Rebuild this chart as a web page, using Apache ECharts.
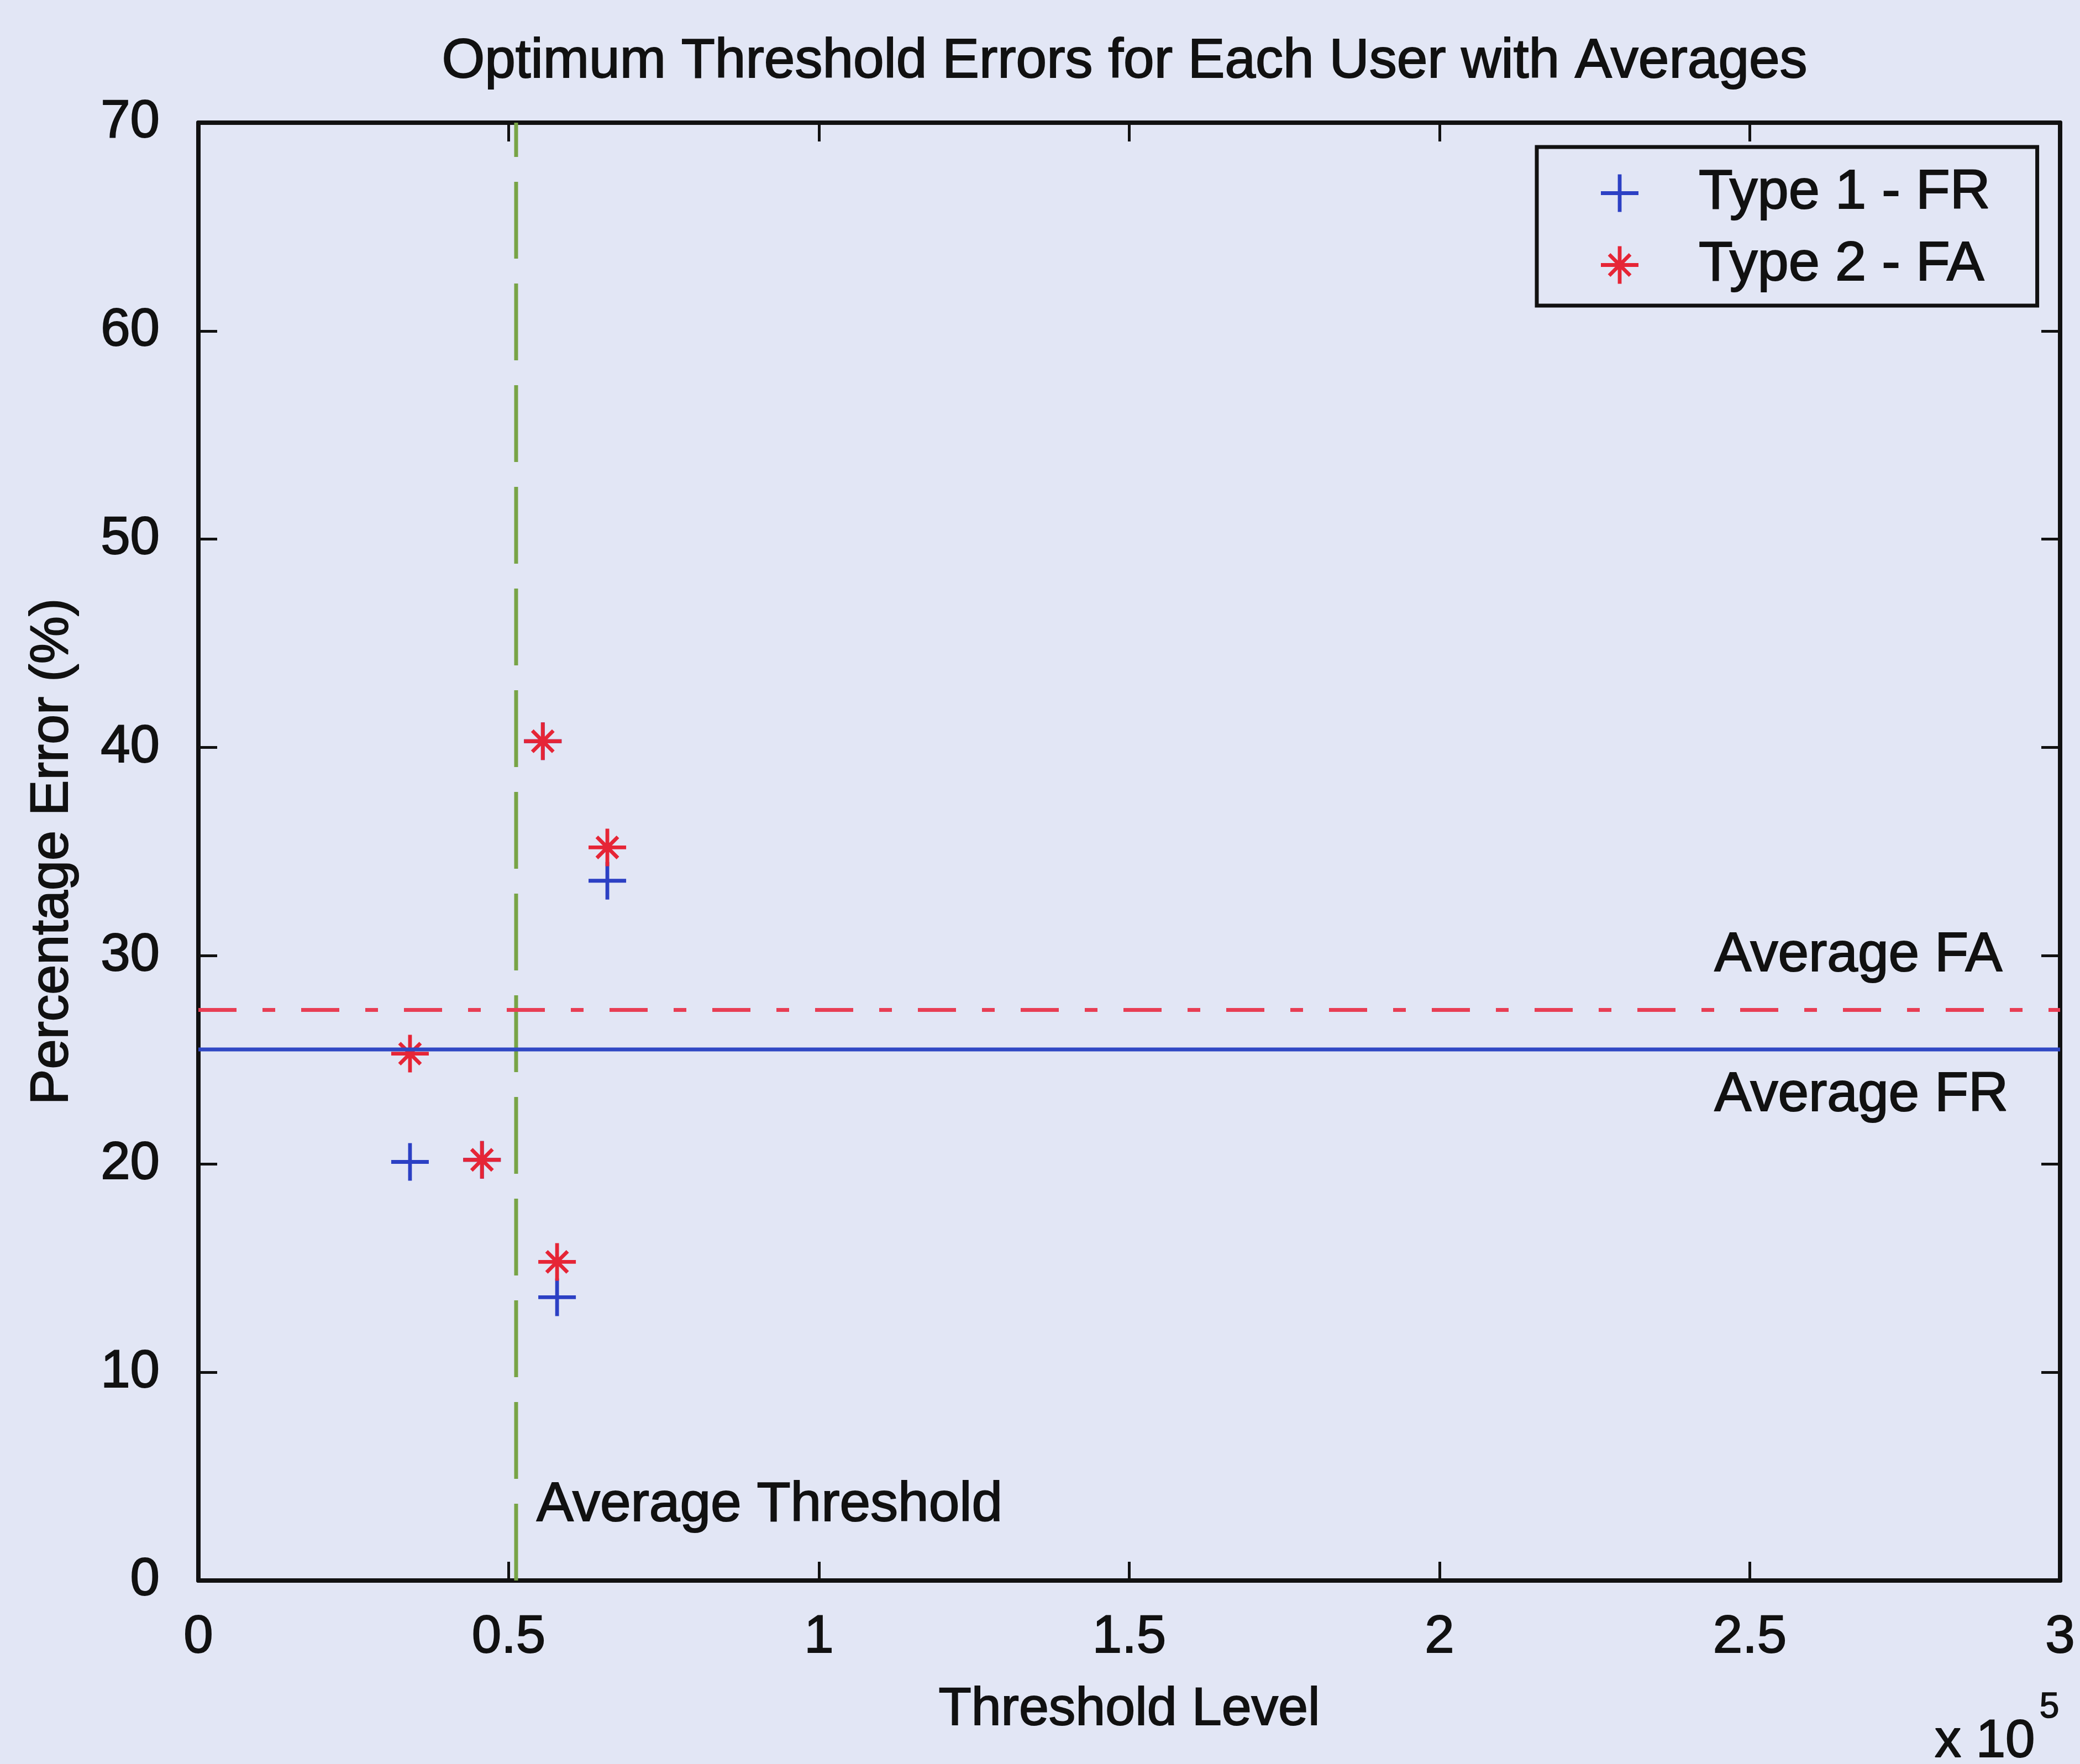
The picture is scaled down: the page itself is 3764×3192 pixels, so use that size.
<!DOCTYPE html>
<html>
<head>
<meta charset="utf-8">
<title>Optimum Threshold Errors for Each User with Averages</title>
<script src="https://cdn.jsdelivr.net/npm/echarts@6/dist/echarts.min.js"></script>
<style>
  html, body { margin: 0; padding: 0; background: #e2e6f5; }
  #chart { width: 3764px; height: 3192px; }
</style>
</head>
<body>
<div id="chart"></div>
<script>
// Optimum threshold found for each user (raw threshold units)
const thresholds = [34100, 45700, 55500, 57800, 65900];
// Error rates (%) at that threshold
const type1FR = [20.1, 20.2, 40.3, 13.6, 33.6];
const type2FA = [25.3, 20.2, 40.3, 15.3, 35.2];
// Averages over all users
const avgThreshold = 51200;
const avgFR = 25.5;
const avgFA = 27.4;
// Axis ticks
const xTicks = [0, 50000, 100000, 150000, 200000, 250000, 300000];
const yTicks = [0, 10, 20, 30, 40, 50, 60, 70];
const xExponent = 5;
// Text annotations placed in data coordinates
const notes = [
  { text: 'Average FA', x: 244300, y: 30.0 },
  { text: 'Average FR', x: 244300, y: 23.3 },
  { text: 'Average Threshold', x: 54500, y: 3.6 }
];

const FONT = '"Liberation Sans", Arial, Helvetica, sans-serif';
const INK = '#111111';
const BG = '#e2e6f5';
const BLUE = '#2c40c4';
const RED = '#e62536';

// Slightly heavier glyphs, like the printed figure
const heavy = { textBorderColor: INK, textBorderWidth: 2 };

// MATLAB-style marker shapes: '+' and '*'
const plusBody = 'M45,0 L55,0 L55,45 L100,45 L100,55 L55,55 L55,100 L45,100 L45,55 L0,55 L0,45 L45,45 Z';
const plusPath = 'path://' + plusBody;
const starPath = 'path://' + plusBody +
  ' M25.5,18.5 L81.5,74.5 L74.5,81.5 L18.5,25.5 Z' +
  ' M18.5,74.5 L74.5,18.5 L81.5,25.5 L25.5,81.5 Z';

const xMin = xTicks[0], xMax = xTicks[xTicks.length - 1], xStep = xTicks[1] - xTicks[0];
const yMin = yTicks[0], yMax = yTicks[yTicks.length - 1], yStep = yTicks[1] - yTicks[0];
const scaleDiv = Math.pow(10, xExponent);

const axisLine = { show: true, onZero: false, lineStyle: { color: INK, width: 8 } };
const axisTick = { show: true, inside: true, length: 34, lineStyle: { color: INK, width: 5 } };
const tickFont = { fontFamily: FONT, fontSize: 96, color: INK, ...heavy };

const chart = echarts.init(document.getElementById('chart'), null, { renderer: 'canvas' });

chart.setOption({
  backgroundColor: BG,
  animation: false,
  title: {
    text: 'Optimum Threshold Errors for Each User with Averages',
    left: 2030,
    top: 57,
    textAlign: 'center',
    textStyle: { fontFamily: FONT, fontSize: 100, fontWeight: 'normal', color: INK, ...heavy }
  },
  grid: {
    left: 359, right: 36, top: 222, bottom: 332,
    outerBoundsMode: 'none',
    show: false
  },
  legend: {
    orient: 'vertical',
    left: 2781,
    top: 266,
    data: [
      { name: 'Type 1 - FR', icon: plusPath },
      { name: 'Type 2 - FA', icon: starPath }
    ],
    itemWidth: 68,
    itemHeight: 68,
    itemGap: 27,
    padding: [32, 84, 22, 116],
    borderColor: INK,
    borderWidth: 7,
    backgroundColor: BG,
    selectedMode: false,
    textStyle: { fontFamily: FONT, fontSize: 101, color: INK, lineHeight: 100, padding: [0, 0, 0, 104], ...heavy }
  },
  xAxis: [
    {
      type: 'value', min: xMin, max: xMax, interval: xStep,
      name: 'Threshold Level', nameLocation: 'middle', nameGap: 186,
      nameTextStyle: { fontFamily: FONT, fontSize: 97, color: INK, ...heavy },
      axisLine: axisLine, axisTick: axisTick,
      axisLabel: { margin: 56, ...tickFont, formatter: v => String(v / scaleDiv) },
      splitLine: { show: false }
    },
    {
      type: 'value', position: 'top', min: xMin, max: xMax, interval: xStep,
      axisLine: axisLine, axisTick: axisTick,
      axisLabel: { show: false }, splitLine: { show: false }
    }
  ],
  yAxis: [
    {
      type: 'value', min: yMin, max: yMax, interval: yStep,
      name: 'Percentage Error (%)', nameLocation: 'middle', nameGap: 215,
      nameTextStyle: { fontFamily: FONT, fontSize: 97, color: INK, ...heavy },
      axisLine: axisLine, axisTick: axisTick,
      axisLabel: { margin: 70, ...tickFont },
      splitLine: { show: false }
    },
    {
      type: 'value', position: 'right', min: yMin, max: yMax, interval: yStep,
      axisLine: axisLine, axisTick: axisTick,
      axisLabel: { show: false }, splitLine: { show: false }
    }
  ],
  graphic: [
    {
      type: 'text', left: 3500, top: 3104,
      style: { text: 'x 10', fontFamily: FONT, fontSize: 96, fill: INK, stroke: INK, lineWidth: 2 }
    },
    {
      type: 'text', left: 3690, top: 3058,
      style: { text: String(xExponent), fontFamily: FONT, fontSize: 64, fill: INK, stroke: INK, lineWidth: 1.5 }
    }
  ],
  series: [
    {
      name: 'Type 1 - FR', type: 'scatter',
      symbol: plusPath, symbolSize: 68,
      itemStyle: { color: BLUE, opacity: 1 },
      data: thresholds.map((x, i) => [x, type1FR[i]]),
      z: 3
    },
    {
      name: 'Type 2 - FA', type: 'scatter',
      symbol: starPath, symbolSize: 68,
      itemStyle: { color: RED, opacity: 1 },
      data: thresholds.map((x, i) => [x, type2FA[i]]),
      z: 3
    },
    {
      name: 'Average Threshold', type: 'line', symbol: 'none',
      lineStyle: { color: '#78a446', width: 7, type: [139, 45] },
      data: [[avgThreshold, yMin], [avgThreshold, yMax]],
      z: 4
    },
    {
      name: 'Average FA', type: 'line', symbol: 'none',
      lineStyle: { color: '#e83e54', width: 7, type: [69, 47, 23, 47] },
      data: [[xMin, avgFA], [xMax, avgFA]],
      z: 4
    },
    {
      name: 'Average FR', type: 'line', symbol: 'none',
      lineStyle: { color: '#3048c4', width: 7 },
      data: [[xMin, avgFR], [xMax, avgFR]],
      z: 4
    },
    {
      name: 'notes', type: 'scatter', symbolSize: 0, silent: true,
      itemStyle: { opacity: 1 },
      data: notes.map(n => ({ value: [n.x, n.y], name: n.text })),
      label: {
        show: true, position: 'right', distance: 0, opacity: 1,
        formatter: p => p.name,
        fontFamily: FONT, fontSize: 100, color: INK, ...heavy
      },
      z: 5
    }
  ]
});
</script>
</body>
</html>
